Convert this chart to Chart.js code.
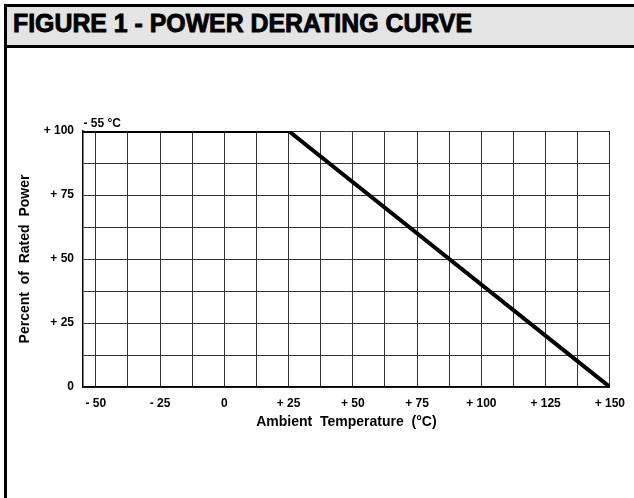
<!DOCTYPE html>
<html>
<head>
<meta charset="utf-8">
<script src="https://cdn.jsdelivr.net/npm/chart.js@4/dist/chart.umd.min.js"></script>
<style>
  html, body { margin: 0; padding: 0; background: #fff; }
  body { width: 634px; height: 498px; position: relative; overflow: hidden; }
  #frame {
    position: absolute; left: 4px; top: 4px; width: 630px; height: 494px;
    border-left: 3px solid #000; border-top: 3px solid #000;
  }
  #titlebar { height: 38px; background: #e4e4e4; border-bottom: 3px solid #000; }
  #title {
    position: absolute; left: 13px; top: 10px; line-height: 26px; white-space: nowrap;
    font-family: "Liberation Sans", Arial, sans-serif; font-weight: 900; font-size: 26px;
    -webkit-text-stroke: 0.9px #000; color: #000; transform-origin: left center;
  }
  #chart { position: absolute; left: 0; top: 0; }
</style>
</head>
<body>
<div id="frame"><div id="titlebar"></div></div>
<span id="title">FIGURE 1 - POWER DERATING CURVE</span>
<canvas id="chart" width="634" height="498"></canvas>
<script>
// derating curve: ambient temperature (°C) vs percent of rated power
const temps = [-55, 25, 150];
const power = [100, 100, 0];

// grid every 12.5, labels every 25
const xTickValues = [-50, -37.5, -25, -12.5, 0, 12.5, 25, 37.5, 50, 62.5, 75, 87.5, 100, 112.5, 125, 137.5, 150];
const xTickLabels = ['- 50', '', '- 25', '', '0', '', '+ 25', '', '+ 50', '', '+ 75', '', '+ 100', '', '+ 125', '', '+ 150'];
const yTickValues = [0, 12.5, 25, 37.5, 50, 62.5, 75, 87.5, 100];
const yTickLabels = ['0', '', '+ 25', '', '+ 50', '', '+ 75', '', '+ 100'];

const noteText = '- 55 °C';
const noteAt = [-55, 100];

const FONT = '"Liberation Sans", Arial, sans-serif';

// squeeze the heavy title a little to the width it has in the figure
function fitTitle() {
    const t = document.getElementById('title');
    t.style.transform = 'none';
    const w = t.getBoundingClientRect().width;
    t.style.transform = 'scaleX(' + (459 / w) + ')';
}
fitTitle();

const notePlugin = {
    id: 'note',
    afterDatasetsDraw(chart) {
        const { ctx, scales } = chart;
        ctx.save();
        ctx.font = 'bold 12px ' + FONT;
        ctx.fillStyle = '#000';
        ctx.textAlign = 'left';
        ctx.textBaseline = 'alphabetic';
        ctx.fillText(noteText, scales.x.getPixelForValue(noteAt[0]) + 0.5, scales.y.getPixelForValue(noteAt[1]) - 4);
        ctx.restore();
    }
};

Chart.defaults.font.family = FONT;
Chart.defaults.color = '#000';

const points = temps.map((t, i) => ({ x: t, y: power[i] }));

new Chart(document.getElementById('chart'), {
    type: 'line',
    data: {
        datasets: [{
            data: points,
            borderColor: '#000',
            borderWidth: 4,
            pointRadius: 0,
            tension: 0,
            fill: false
        }]
    },
    options: {
        responsive: false,
        animation: false,
        layout: { padding: { left: 17, right: 24, top: 131, bottom: 67.6 } },
        plugins: { legend: { display: false }, tooltip: { enabled: false } },
        scales: {
            x: {
                type: 'linear',
                min: -55,
                max: 150,
                afterBuildTicks: (scale) => { scale.ticks = xTickValues.map(v => ({ value: v })); },
                afterFit: (scale) => { scale.height = 43.4; },
                grid: { color: '#333', lineWidth: 1, drawTicks: false },
                border: { color: '#000', width: 1.5 },
                ticks: {
                    autoSkip: false,
                    maxRotation: 0,
                    padding: 9,
                    font: { size: 12, weight: 'bold' },
                    callback: (v, i) => xTickLabels[i]
                },
                title: {
                    display: true,
                    text: 'Ambient  Temperature  (°C)',
                    font: { size: 14, weight: 'bold' },
                    padding: 0
                }
            },
            y: {
                min: 0,
                max: 100,
                afterBuildTicks: (scale) => { scale.ticks = yTickValues.map(v => ({ value: v })); },
                afterFit: (scale) => { scale.width = 66; },
                grid: { color: '#333', lineWidth: 1, drawTicks: false },
                border: { color: '#000', width: 1.5 },
                ticks: {
                    autoSkip: false,
                    padding: 9,
                    font: { size: 12, weight: 'bold' },
                    callback: (v, i) => yTickLabels[i]
                },
                title: {
                    display: true,
                    text: 'Percent  of  Rated  Power',
                    font: { size: 14, weight: 'bold' },
                    padding: 0
                }
            }
        }
    },
    plugins: [notePlugin]
});
</script>
</body>
</html>
